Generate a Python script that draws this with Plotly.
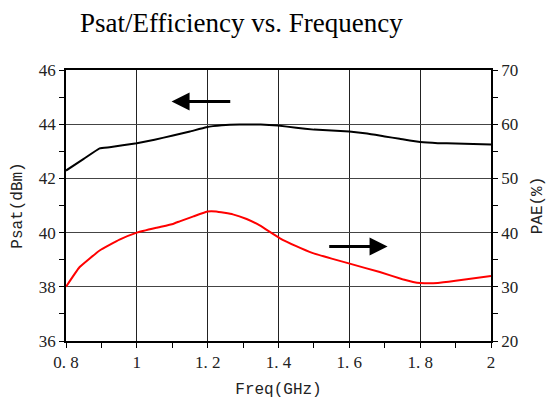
import plotly.graph_objects as go

freq_psat = [0.8, 0.85, 0.895, 0.923, 0.96, 1.0, 1.05, 1.102, 1.15, 1.196, 1.24, 1.29, 1.35, 1.398, 1.45, 1.5, 1.6, 1.65, 1.7, 1.742, 1.8, 1.85, 1.9, 2.0]
psat = [42.29, 42.72, 43.11, 43.15, 43.22, 43.3, 43.43, 43.58, 43.73, 43.89, 43.96, 43.99, 43.99, 43.95, 43.87, 43.8, 43.73, 43.66, 43.55, 43.46, 43.34, 43.3, 43.29, 43.25]

freq_pae = [0.8, 0.838, 0.895, 0.951, 1.0, 1.055, 1.102, 1.121, 1.16, 1.2, 1.224, 1.271, 1.31, 1.347, 1.403, 1.45, 1.497, 1.55, 1.601, 1.686, 1.75, 1.78, 1.8, 1.85, 1.9, 2.0]
pae = [30.0, 33.6, 36.7, 38.7, 40.0, 40.9, 41.6, 42.07, 43.0, 43.9, 43.9, 43.36, 42.5, 41.33, 39.0, 37.5, 36.22, 35.2, 34.27, 32.72, 31.4, 30.9, 30.7, 30.7, 31.1, 32.0]

x_tickvals = [0.8, 1.0, 1.2, 1.4, 1.6, 1.8, 2.0]
x_ticktext = ["0. 8", "1", "1. 2", "1. 4", "1. 6", "1. 8", "2"]
y1_tickvals = [36, 38, 40, 42, 44, 46]
y2_tickvals = [20, 30, 40, 50, 60, 70]

fig = go.Figure()
fig.add_trace(go.Scatter(x=freq_psat, y=psat, mode="lines", line=dict(color="black", width=2, shape="spline", smoothing=0.3), yaxis="y"))
fig.add_trace(go.Scatter(x=freq_pae, y=pae, mode="lines", line=dict(color="#ff0000", width=2, shape="spline", smoothing=0.3), yaxis="y2"))

tickfont = dict(family="Liberation Serif", size=17, color="#222")
titlefont = dict(family="Liberation Mono", size=16, color="#222")

fig.update_layout(
    width=547, height=401,
    margin=dict(l=66, r=56, t=70, b=60),
    plot_bgcolor="white", paper_bgcolor="white",
    showlegend=False,
    title=dict(text="Psat/Efficiency vs. Frequency", x=80/547, xanchor="left", y=1-23/401, yanchor="middle",
               font=dict(family="Liberation Serif", size=27, color="black")),
    xaxis=dict(range=[0.8, 2.0], tickvals=x_tickvals, ticktext=x_ticktext, tickfont=tickfont, automargin=False,
               ticks="outside", ticklen=5, tickcolor="black", showline=True, linecolor="black", linewidth=1.5,
               mirror=True, showgrid=True, gridcolor="#222", gridwidth=1, zeroline=False,
               minor=dict(dtick=0.1, ticks="outside", ticklen=5, tickcolor="black", showgrid=False),
               title=dict(text="Freq(GHz)", font=titlefont, standoff=12)),
    yaxis=dict(range=[36, 46], tickvals=y1_tickvals, tickfont=tickfont, automargin=False,
               ticks="outside", ticklen=5, tickcolor="black", showline=True, linecolor="black", linewidth=1.5,
               showgrid=True, gridcolor="#444", gridwidth=1, zeroline=False,
               minor=dict(dtick=1, ticks="outside", ticklen=5, tickcolor="black", showgrid=False),
               title=dict(text="Psat(dBm)", font=titlefont, standoff=12)),
    yaxis2=dict(range=[20, 70], tickvals=y2_tickvals, tickfont=tickfont, overlaying="y", side="right", automargin=False,
                ticks="outside", ticklen=5, tickcolor="black", showline=True, linecolor="black", linewidth=1.5,
                showgrid=False, zeroline=False,
                minor=dict(dtick=5, ticks="outside", ticklen=5, tickcolor="black", showgrid=False),
                title=dict(text="PAE(%)", font=titlefont, standoff=14)),
)

fig.add_annotation(x=1.098, y=44.84, ax=1.268, ay=44.84, xref="x", yref="y", axref="x", ayref="y",
                   showarrow=True, arrowhead=2, arrowsize=1.2, arrowwidth=3, arrowcolor="black", text="")
fig.add_annotation(x=1.708, y=39.49, ax=1.539, ay=39.49, xref="x", yref="y", axref="x", ayref="y",
                   showarrow=True, arrowhead=2, arrowsize=1.2, arrowwidth=3, arrowcolor="black", text="")

fig.write_html("out.html")
